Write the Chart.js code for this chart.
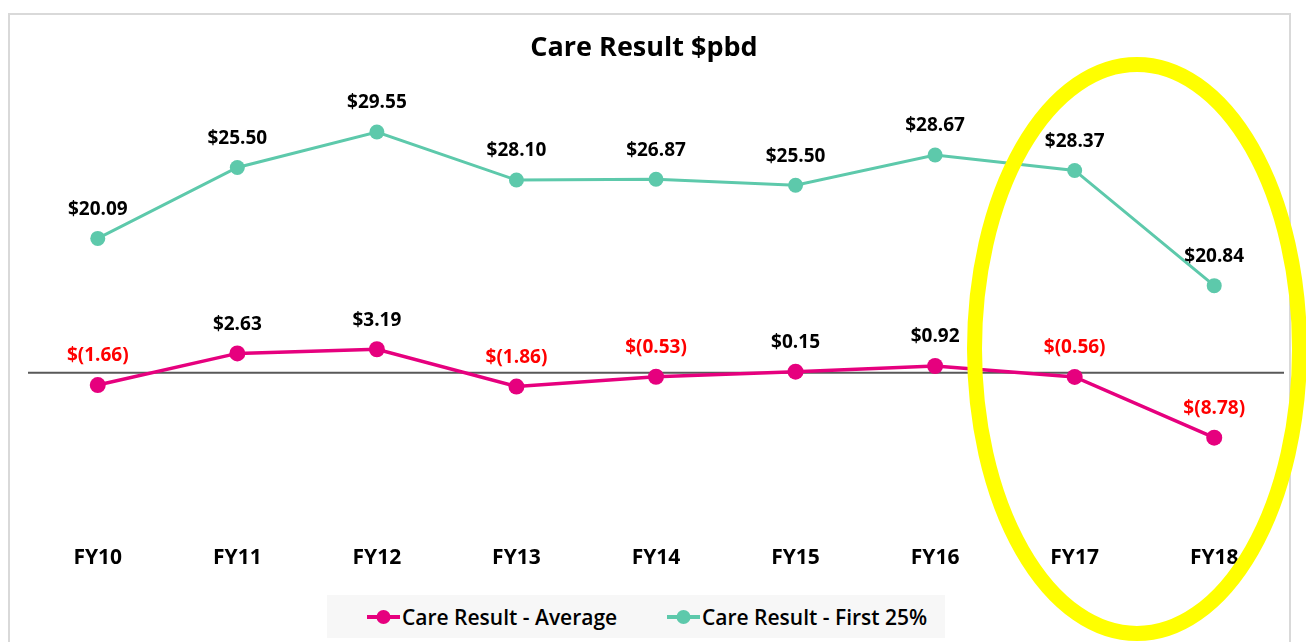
<!DOCTYPE html>
<html>
<head>
<meta charset="utf-8">
<script src="https://cdn.jsdelivr.net/npm/chart.js@4.4.1/dist/chart.umd.min.js"></script>
<style>
html,body{margin:0;padding:0;background:#fff;}
#wrap{position:relative;width:1306px;height:642px;overflow:hidden;background:#fff;}
#c{position:absolute;left:0;top:0;}
#legend{position:absolute;left:327px;top:595px;width:618px;height:43px;background:#f7f7f7;font-family:'Open Sans',sans-serif;font-weight:600;font-size:21px;color:#000;}
.item{position:absolute;top:0;height:43px;display:flex;align-items:center;white-space:nowrap;}
.item svg{display:block;margin-right:2px;}
</style>
</head>
<body>
<div id="wrap">
  <canvas id="c" width="1306" height="642"></canvas>
  <div id="legend"></div>
</div>
<script>
// ---- data ----
const categories = ['FY10', 'FY11', 'FY12', 'FY13', 'FY14', 'FY15', 'FY16', 'FY17', 'FY18'];
const seriesNames = ['Care Result - Average', 'Care Result - First 25%'];
const chartTitle = 'Care Result $pbd';
const averageValues = [-1.66, 2.63, 3.19, -1.86, -0.53, 0.15, 0.92, -0.56, -8.78];
const averageLabels = ['$(1.66)', '$2.63', '$3.19', '$(1.86)', '$(0.53)', '$0.15', '$0.92', '$(0.56)', '$(8.78)'];
// plotted positions
const first25Values = [18.2, 27.8, 32.6, 26.1, 26.2, 25.4, 29.5, 27.4, 11.8];
const first25Labels = ['$20.09', '$25.50', '$29.55', '$28.10', '$26.87', '$25.50', '$28.67', '$28.37', '$20.84'];
const yRange = [-22, 40];

// ---- styles ----
const PINK = '#E6007E';
const TEAL = '#5DC9AB';
const FONT = "'Open Sans', sans-serif";
Chart.defaults.font.family = FONT;

const labelSets = [averageLabels, first25Labels];

const framePlugin = {
  id: 'frame',
  beforeDraw(chart) {
    const ctx = chart.ctx;
    ctx.save();
    ctx.fillStyle = '#fff';
    ctx.fillRect(0, 0, chart.width, chart.height);
    ctx.strokeStyle = '#d9d9d9';
    ctx.lineWidth = 2;
    ctx.strokeRect(9, 14, 1281, 700);
    ctx.fillStyle = '#000';
    ctx.font = 'bold 27px ' + FONT;
    ctx.textAlign = 'center';
    ctx.textBaseline = 'middle';
    ctx.fillText(chartTitle, 644, 48);
    ctx.restore();
  }
};

const zeroLinePlugin = {
  id: 'zeroLine',
  beforeDatasetsDraw(chart) {
    const ctx = chart.ctx, a = chart.chartArea;
    const y = chart.scales.y.getPixelForValue(0);
    ctx.save();
    ctx.strokeStyle = '#595959';
    ctx.lineWidth = 2;
    ctx.beginPath();
    ctx.moveTo(a.left, y);
    ctx.lineTo(a.right, y);
    ctx.stroke();
    ctx.restore();
  }
};

const valueLabelPlugin = {
  id: 'valueLabels',
  afterDatasetsDraw(chart) {
    const ctx = chart.ctx;
    ctx.save();
    ctx.font = 'bold 19px ' + FONT;
    ctx.textAlign = 'center';
    ctx.textBaseline = 'middle';
    chart.data.datasets.forEach((ds, di) => {
      const meta = chart.getDatasetMeta(di);
      const labels = labelSets[di];
      meta.data.forEach((pt, i) => {
        const txt = labels[i];
        ctx.fillStyle = txt.startsWith('$(') ? '#FF0000' : '#000';
        ctx.fillText(txt, pt.x, pt.y - 29);
      });
    });
    ctx.restore();
  }
};

const ellipsePlugin = {
  id: 'highlightEllipse',
  afterDraw(chart) {
    const ctx = chart.ctx;
    ctx.save();
    ctx.strokeStyle = '#FFFF00';
    ctx.lineWidth = 15;
    ctx.beginPath();
    ctx.ellipse(1137, 349, 162.5, 284.5, 0, 0, Math.PI * 2);
    ctx.stroke();
    ctx.restore();
  }
};

new Chart(document.getElementById('c'), {
  type: 'line',
  data: {
    labels: categories,
    datasets: [
      {
        label: seriesNames[0],
        data: averageValues,
        borderColor: PINK,
        backgroundColor: PINK,
        pointBackgroundColor: PINK,
        pointBorderColor: PINK,
        borderWidth: 3.5,
        pointRadius: 8,
        pointBorderWidth: 0,
        tension: 0
      },
      {
        label: seriesNames[1],
        data: first25Values,
        borderColor: TEAL,
        backgroundColor: TEAL,
        pointBackgroundColor: TEAL,
        pointBorderColor: TEAL,
        borderWidth: 3,
        pointRadius: 7.5,
        pointBorderWidth: 0,
        tension: 0
      }
    ]
  },
  options: {
    responsive: false,
    animation: false,
    devicePixelRatio: 1,
    layout: { padding: { left: 28, right: 22, top: 77.4, bottom: 61.5 } },
    plugins: {
      legend: { display: false },
      tooltip: { enabled: false },
      title: { display: false }
    },
    scales: {
      x: {
        offset: true,
        grid: { display: false, drawTicks: false },
        border: { display: false },
        ticks: { color: '#000', font: { size: 21, weight: 'bold', family: FONT }, padding: 10 }
      },
      y: { display: false, min: yRange[0], max: yRange[1] }
    }
  },
  plugins: [framePlugin, zeroLinePlugin, valueLabelPlugin, ellipsePlugin]
});

// ---- HTML legend ----
const legend = document.getElementById('legend');
const legendColors = [PINK, TEAL];
const legendLefts = [40, 340];
seriesNames.forEach((name, i) => {
  const item = document.createElement('div');
  item.className = 'item';
  item.style.left = legendLefts[i] + 'px';
  item.innerHTML =
    '<svg width="33" height="18" viewBox="0 0 33 18">' +
    '<line x1="0" y1="9" x2="33" y2="9" stroke="' + legendColors[i] + '" stroke-width="4"/>' +
    '<circle cx="16.5" cy="9" r="7" fill="' + legendColors[i] + '"/></svg>';
  const span = document.createElement('span');
  span.textContent = name;
  item.appendChild(span);
  legend.appendChild(item);
});
</script>
</body>
</html>
